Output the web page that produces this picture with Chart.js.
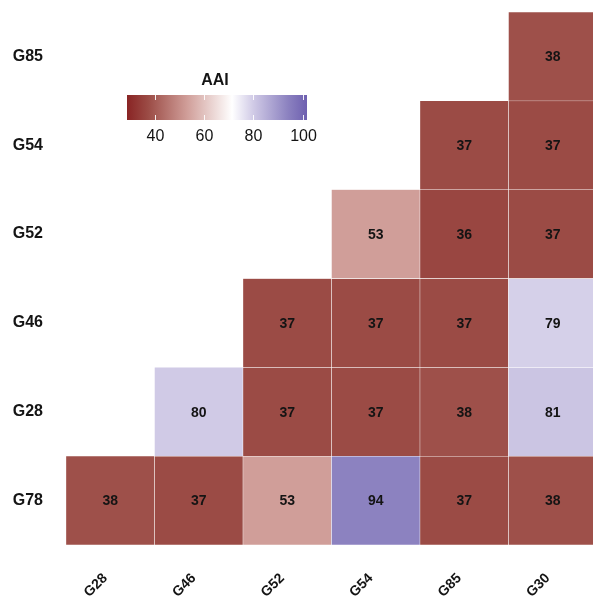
<!DOCTYPE html>
<html>
<head>
<meta charset="utf-8">
<script src="https://cdn.jsdelivr.net/npm/chart.js@4.4.1/dist/chart.umd.min.js"></script>
<style>
  html, body { margin: 0; padding: 0; background: #ffffff; overflow: hidden; }
  #wrap { position: relative; width: 597px; height: 599px; }
</style>
</head>
<body>
<div id="wrap"><canvas id="c" width="597" height="599"></canvas></div>
<script>
// Pairwise AAI matrix (upper triangle only); null = no cell
const columns = ['G28', 'G46', 'G52', 'G54', 'G85', 'G30'];
const rowsTopDown = ['G85', 'G54', 'G52', 'G46', 'G28', 'G78'];
const aaiG85 = [null, null, null, null, null, 38];
const aaiG54 = [null, null, null, null, 37, 37];
const aaiG52 = [null, null, null, 53, 36, 37];
const aaiG46 = [null, null, 37, 37, 37, 79];
const aaiG28 = [null, 80, 37, 37, 38, 81];
const aaiG78 = [38, 37, 53, 94, 37, 38];
const rowValues = [aaiG85, aaiG54, aaiG52, aaiG46, aaiG28, aaiG78];

// Colour bar
const legendTicks = [40, 60, 80, 100];
const legendRange = [28.5, 101.8];

// Diverging fill: dark red -> white -> slate blue
const colourStops = [
  [28.5, [137, 36, 36]],
  [37,   [155, 75, 69]],
  [53,   [208, 158, 153]],
  [71.3, [255, 255, 255]],
  [80,   [208, 202, 230]],
  [94,   [140, 130, 192]],
  [101.8,[110, 96, 176]]
];

function fillFor(v) {
  if (v <= colourStops[0][0]) return rgb(colourStops[0][1]);
  for (let i = 1; i < colourStops.length; i++) {
    const [v1, c1] = colourStops[i];
    const [v0, c0] = colourStops[i - 1];
    if (v <= v1) {
      const t = (v - v0) / (v1 - v0);
      return rgb(c0.map((c, k) => c + (c1[k] - c) * t));
    }
  }
  return rgb(colourStops[colourStops.length - 1][1]);
}
function rgb(c) {
  return 'rgb(' + c.map(x => Math.round(x)).join(',') + ')';
}

const FONT = "'Liberation Sans', Arial, sans-serif";
const nRows = rowsTopDown.length;

// one floating-bar dataset per row, spanning [pos-0.5, pos+0.5]
const datasets = rowsTopDown.map((name, i) => {
  const pos = nRows - 1 - i;
  const vals = rowValues[i];
  return {
    label: name,
    values: vals,
    data: vals.map(v => (v == null ? null : [pos - 0.5, pos + 0.5])),
    backgroundColor: ctx => {
      const v = vals[ctx.dataIndex];
      return v == null ? 'rgba(0,0,0,0)' : fillFor(v);
    },
    borderColor: '#ffffff',
    borderWidth: 0.5,
    borderSkipped: false,
    grouped: false,
    barPercentage: 1,
    categoryPercentage: 1
  };
});

const cellLabels = {
  id: 'cellLabels',
  afterDatasetsDraw(chart) {
    const ctx = chart.ctx;
    ctx.save();
    ctx.font = 'bold 14px ' + FONT;
    ctx.fillStyle = '#141414';
    ctx.textAlign = 'center';
    ctx.textBaseline = 'middle';
    chart.data.datasets.forEach((ds, di) => {
      const meta = chart.getDatasetMeta(di);
      meta.data.forEach((el, j) => {
        const v = ds.values[j];
        if (v == null) return;
        const p = el.getCenterPoint();
        ctx.fillText(String(v), p.x, p.y + 1);
      });
    });
    ctx.restore();
  }
};

const colourBar = {
  id: 'colourBar',
  afterDraw(chart) {
    const ctx = chart.ctx;
    const area = chart.chartArea;
    const x0 = area.left + 61, w = 180;
    const y0 = area.top + 83, h = 25;
    const [lo, hi] = legendRange;
    const grad = ctx.createLinearGradient(x0, 0, x0 + w, 0);
    colourStops.forEach(([v, c]) => {
      grad.addColorStop(Math.min(1, Math.max(0, (v - lo) / (hi - lo))), rgb(c));
    });
    ctx.save();
    ctx.fillStyle = grad;
    ctx.fillRect(x0, y0, w, h);

    ctx.font = 'bold 16px ' + FONT;
    ctx.fillStyle = '#141414';
    ctx.textAlign = 'center';
    ctx.textBaseline = 'middle';
    ctx.fillText('AAI', x0 + 88, y0 - 14);

    ctx.font = '16px ' + FONT;
    ctx.strokeStyle = 'rgba(255,255,255,0.9)';
    ctx.lineWidth = 1;
    legendTicks.forEach(t => {
      const x = Math.round(x0 + (t - lo) / (hi - lo) * w) + 0.5;
      ctx.beginPath();
      ctx.moveTo(x, y0); ctx.lineTo(x, y0 + 5);
      ctx.moveTo(x, y0 + h - 5); ctx.lineTo(x, y0 + h);
      ctx.stroke();
      ctx.fillText(String(t), x, y0 + h + 17);
    });
    ctx.restore();
  }
};

new Chart(document.getElementById('c'), {
  type: 'bar',
  data: { labels: columns, datasets },
  options: {
    responsive: false,
    animation: false,
    devicePixelRatio: 1,
    layout: { padding: { top: 12, left: 0, right: 0, bottom: 0 } },
    plugins: { legend: { display: false }, tooltip: { enabled: false } },
    scales: {
      x: {
        type: 'category',
        offset: true,
        grid: { display: false },
        border: { display: false },
        ticks: {
          minRotation: 45,
          maxRotation: 45,
          padding: 17,
          labelOffset: -5,
          color: '#141414',
          font: { family: FONT, size: 14, weight: 'bold' }
        },
        afterFit: s => {
          s.height = 54;
          s.paddingLeft = 0;
          s.paddingRight = 0;
        }
      },
      y: {
        type: 'linear',
        min: -0.5,
        max: nRows - 0.5,
        grid: { display: false },
        border: { display: false },
        afterBuildTicks: s => {
          s.ticks = rowsTopDown.map((_, i) => ({ value: i }));
        },
        ticks: {
          padding: 15,
          color: '#141414',
          font: { family: FONT, size: 16, weight: 'bold' },
          callback: v => rowsTopDown[nRows - 1 - v]
        },
        afterFit: s => {
          s.width = 66;
          s.paddingTop = 0;
          s.paddingBottom = 0;
        }
      }
    }
  },
  plugins: [cellLabels, colourBar]
});
</script>
</body>
</html>
